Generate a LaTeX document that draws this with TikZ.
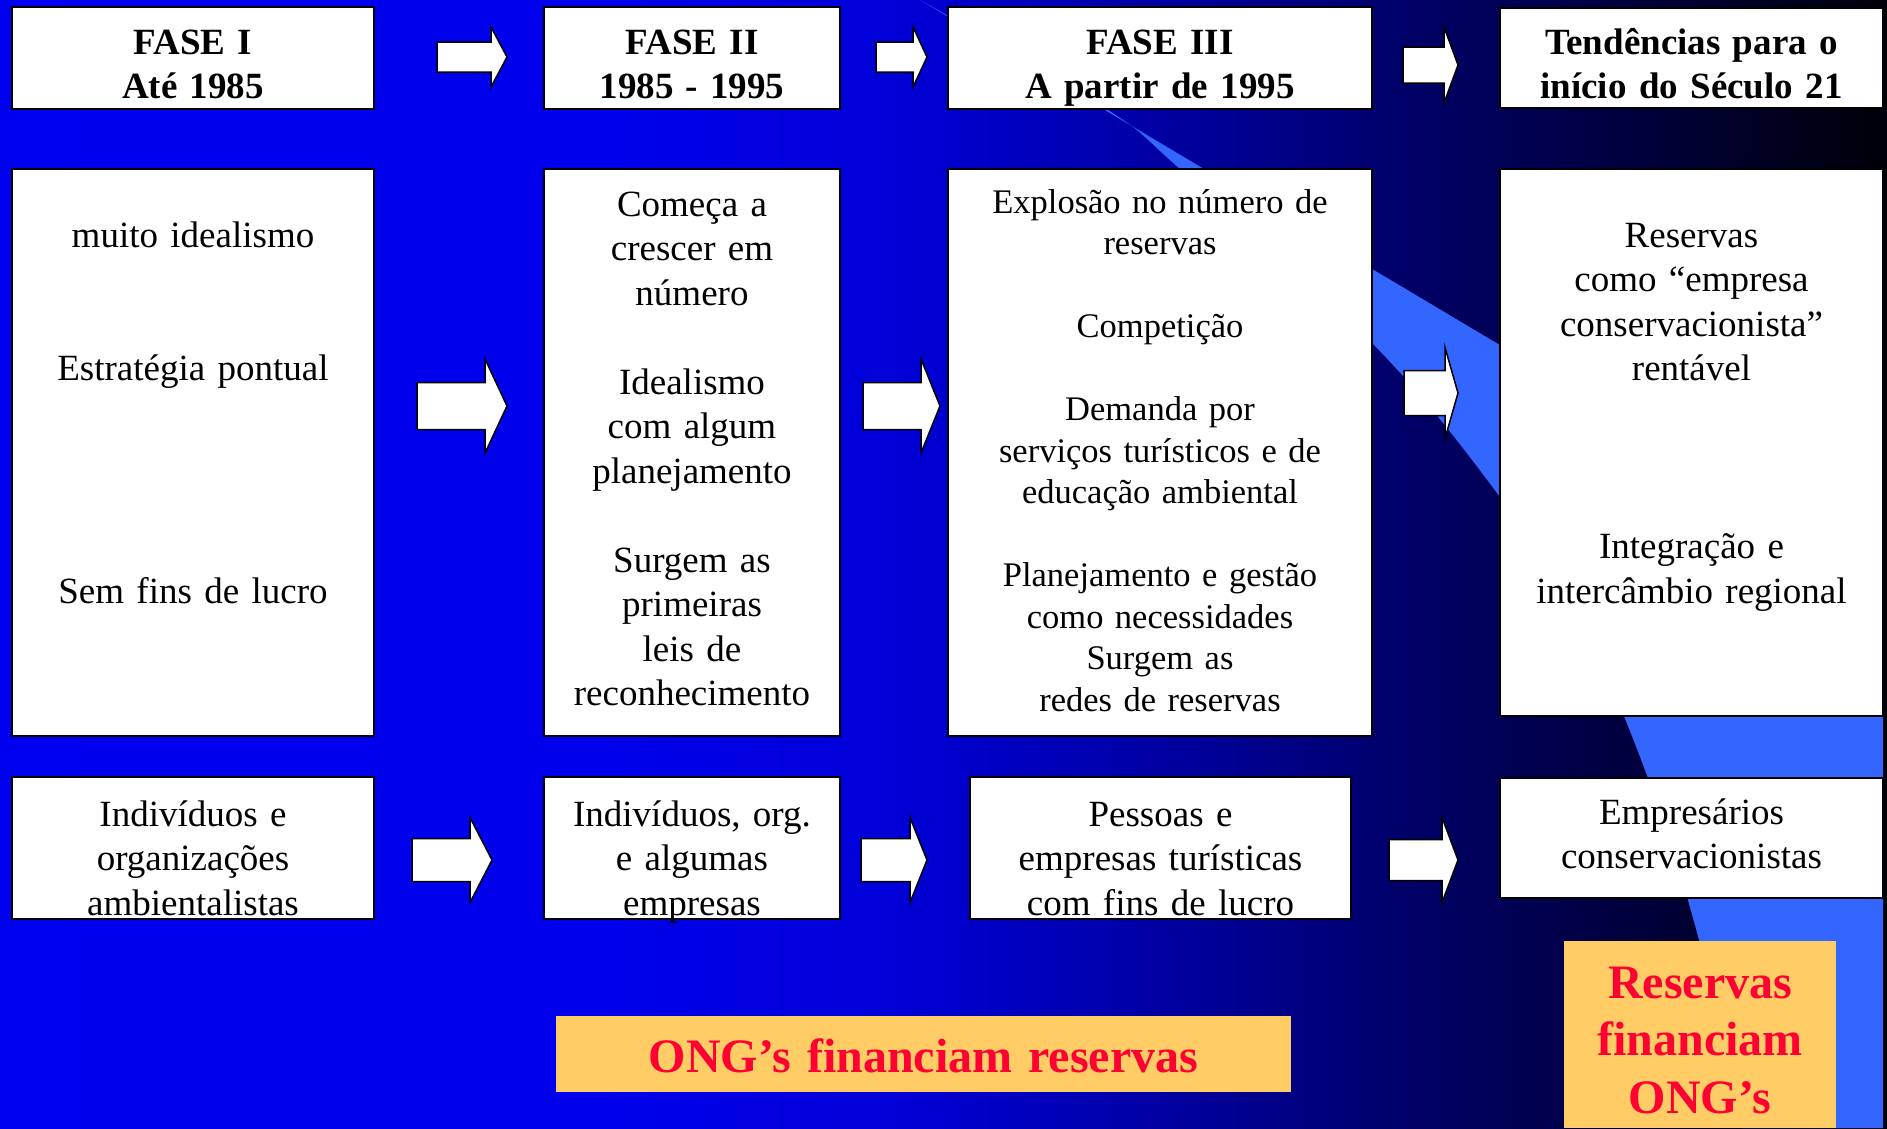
\documentclass[tikz,border=0pt]{standalone}
\usepackage{fontspec}
\setmainfont{Liberation Serif}
\definecolor{bg0}{RGB}{0,0,240}
\definecolor{bg1}{RGB}{0,0,236}
\definecolor{bg2}{RGB}{0,0,215}
\definecolor{bg3}{RGB}{0,0,165}
\definecolor{bg4}{RGB}{0,0,105}
\definecolor{bg5}{RGB}{0,0,58}
\definecolor{bg6}{RGB}{0,0,8}
\definecolor{slidehi}{RGB}{51,102,255}
\definecolor{notebox}{RGB}{255,204,102}
\definecolor{notetext}{RGB}{255,0,51}
\newcommand{\faseseta}[6]{\draw[seta] (#1,#4-#5) -- (#2,#4-#5) -- (#2,#4-#6) -- (#3,#4) -- (#2,#4+#6) -- (#2,#4+#5) -- (#1,#4+#5) -- cycle;}

\begin{document}
\begin{tikzpicture}[x=1pt,y=-1pt,
    box/.style={draw=black,line width=2pt,fill=white,inner sep=0pt,outer sep=0pt},
    seta/.style={draw=black,line width=1.5pt,fill=white,line join=miter},
    txt/.style={anchor=base,align=center,inner sep=0pt,font=\fontsize{37}{44.5}\selectfont},
    head/.style={txt,font=\fontsize{37}{44.5}\selectfont\bfseries},
    txtsm/.style={txt,font=\fontsize{34.5}{41.5}\selectfont},
    note/.style={fill=notebox,inner sep=0pt,outer sep=0pt},
    notetxt/.style={txt,text=notetext,font=\fontsize{48}{57.5}\selectfont\bfseries}]
    \useasboundingbox (0,0) rectangle (1887,1128);
    \foreach \xa/\xb/\ca/\cb in {0/600/bg0/bg1,600/900/bg1/bg2,900/1150/bg2/bg3,1150/1400/bg3/bg4,1400/1650/bg4/bg5,1650/1887/bg5/bg6}
        \fill[left color=\ca,right color=\cb] (\xa,0) rectangle (\xb+1,1128);
    \fill[slidehi] (920,0) -- (1883,573) -- (1883,1128) -- plot[smooth,tension=.6] coordinates {(1742,1128) (1699,940) (1648,778) (1580,620) (1500,497) (1374,345) (1180,169) (1105,108) (920,0)} -- cycle;

    \node[box,minimum width=362pt,minimum height=102pt] (h1) at (193,58) {};
    \node[box,minimum width=296pt,minimum height=102pt] (h2) at (692,58) {};
    \node[box,minimum width=424pt,minimum height=102pt] (h3) at (1160,58) {};
    \node[box,minimum width=383pt,minimum height=100pt] (h4) at (1691.5,57.5) {};
    \node[head,text width=350pt] (h1t) at (193,54) {FASE I\\Até 1985};
    \node[head,text width=286pt] (h2t) at (692,54) {FASE II\\1985 - 1995};
    \node[head,text width=410pt] (h3t) at (1160,54) {FASE III\\A partir de 1995};
    \node[head,text width=375pt] (h4t) at (1691.5,54) {Tendências para o\\início do Século 21};

    \node[box,minimum width=362pt,minimum height=567pt] (c1) at (193,452.5) {};
    \node[box,minimum width=296pt,minimum height=567pt] (c2) at (692,452.5) {};
    \node[box,minimum width=424pt,minimum height=567pt] (c3) at (1160,452.5) {};
    \node[box,minimum width=383pt,minimum height=547pt] (c4) at (1691.5,442.5) {};
    \node[txt,text width=350pt] (c1t) at (193,247) {muito idealismo\\[89pt]Estratégia pontual\\[178pt]Sem fins de lucro};
    \node[txt,text width=286pt] (c2t) at (692,216) {Começa a\\crescer em\\número\\[44.5pt]Idealismo\\com algum\\planejamento\\[44.5pt]Surgem as\\primeiras\\leis de\\reconhecimento};
    \node[txtsm,text width=410pt] (c3t) at (1160,213) {Explosão no número de\\reservas\\[41.5pt]Competição\\[41.5pt]Demanda por\\serviços turísticos e de\\educação ambiental\\[41.5pt]Planejamento e gestão\\como necessidades\\Surgem as\\redes de reservas};
    \node[txt,text width=375pt] (c4t) at (1691.5,247) {Reservas\\como “empresa\\conservacionista”\\rentável\\[133.5pt]Integração e\\intercâmbio regional};

    \node[box,minimum width=362pt,minimum height=142pt] (a1) at (193,848) {};
    \node[box,minimum width=296pt,minimum height=142pt] (a2) at (692,848) {};
    \node[box,minimum width=381pt,minimum height=142pt] (a3) at (1160.5,848) {};
    \node[box,minimum width=383pt,minimum height=120pt] (a4) at (1691.5,838) {};
    \node[txt,text width=350pt] (a1t) at (193,826) {Indivíduos e\\organizações\\ambientalistas};
    \node[txt,text width=286pt] (a2t) at (692,826) {Indivíduos, org.\\e algumas\\empresas};
    \node[txt,text width=370pt] (a3t) at (1160.5,826) {Pessoas e\\empresas turísticas\\com fins de lucro};
    \node[txt,text width=375pt] (a4t) at (1691.5,824) {Empresários\\conservacionistas};

    \faseseta{437}{491}{507}{57}{15}{30}
    \faseseta{876}{913}{927}{57}{15}{30}
    \faseseta{1403}{1444}{1458}{65}{18}{38}
    \faseseta{417}{485}{507}{406}{23.5}{47}
    \faseseta{863}{921}{940}{406}{23.5}{47}
    \faseseta{1404}{1445}{1458}{393}{22.5}{45.5}
    \faseseta{412}{470}{492}{860}{21.5}{42.5}
    \faseseta{861}{910}{927}{860}{21.5}{42.5}
    \faseseta{1389}{1442}{1458}{860}{20.5}{42.5}

    \node[note,minimum width=735pt,minimum height=76pt] (n1) at (923.5,1054) {};
    \node[notetxt,text width=720pt] (n1t) at (923.5,1072) {ONG’s financiam reservas};
    \node[note,minimum width=272pt,minimum height=187pt] (n2) at (1700,1034.5) {};
    \node[notetxt,text width=262pt] (n2t) at (1700,998) {Reservas\\financiam\\ONG’s};
\end{tikzpicture}
\end{document}
